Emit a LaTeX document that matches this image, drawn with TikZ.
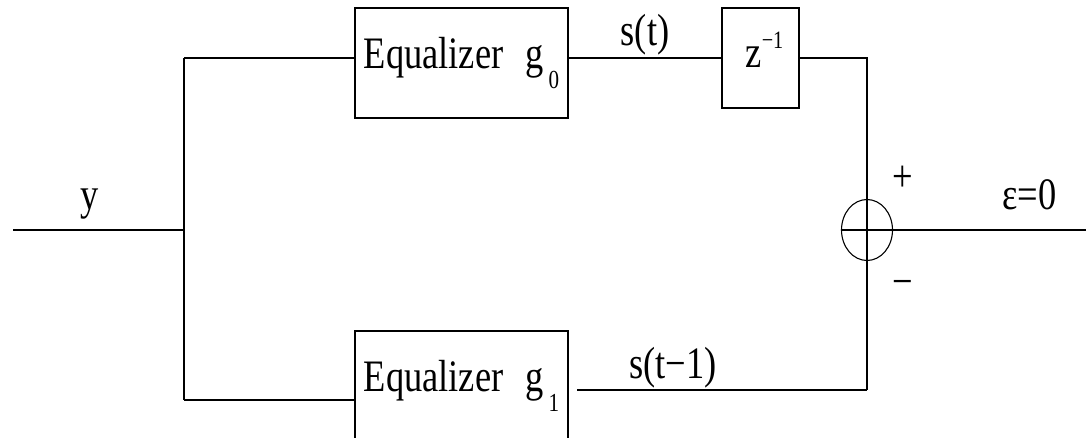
\documentclass[tikz,border=0pt]{standalone}
\usepackage{fontspec}
\setmainfont{Liberation Serif}[FakeStretch=0.81]
\usepackage{tikz}
\usetikzlibrary{positioning,calc,shapes.geometric}
\newcommand\eqsub[1]{\raisebox{-20pt}{\fontsize{26}{26}\selectfont #1}}
\newcommand\eqsup[1]{\raisebox{19pt}{\fontsize{25}{25}\selectfont #1}}

\begin{document}
\begin{tikzpicture}[x=1pt,y=-1pt,line width=1.1pt,
    every node/.style={inner sep=0pt,font=\fontsize{45}{54}\selectfont},
    blk/.style={draw,minimum width=213pt,minimum height=110pt},
    delay/.style={draw,minimum width=77pt,minimum height=100pt},
    sumnode/.style={draw,ellipse,minimum width=51pt,minimum height=61pt}]
  \useasboundingbox (0,0) rectangle (1086,438);
  \clip (0,0) rectangle (1086,438);

  \node[blk] (eqa) at (461.5,63) {Equalizer\hspace{22pt}g\hspace{5pt}\eqsub{0}};
  \node[blk] (eqb) at (461.5,386) {Equalizer\hspace{22pt}g\hspace{5pt}\eqsub{1}};
  \node[delay] (zdel) at (760.5,58) {\hspace{8pt}z\eqsup{−1}\rule[-16pt]{0pt}{16pt}};
  \node[sumnode] (sum) at (867,230) {};
  \node (plus) at ($(sum)+(36,-51)$) {+};
  \node (minus) at ($(sum)+(36,58)$) {−};

  \coordinate (in) at (13,230);
  \coordinate (out) at (1086,230);
  \coordinate (tap) at (184,230);
  \coordinate (ta) at (184,58);
  \coordinate (tb) at (184,400);
  \coordinate (rb) at (867,390);
  \coordinate (gap) at (577,390);

  \draw (in) -- node[pos=0.45,above=10pt] {y} (tap);
  \draw (ta) -- (tb);
  \draw (ta) -- (ta -| eqa.west);
  \draw (tb) -- (tb -| eqb.west);
  \draw (ta -| eqa.east) -- node[above=2pt] {s(t)} (ta -| zdel.west);
  \draw (ta -| zdel.east) -| (rb);
  \draw (gap) -- node[pos=0.33,above=1pt] {s(t−1)} (rb);
  \draw (sum.west) -- node[pos=0.77,above=20pt] {ε=0} (out);
\end{tikzpicture}
\end{document}
